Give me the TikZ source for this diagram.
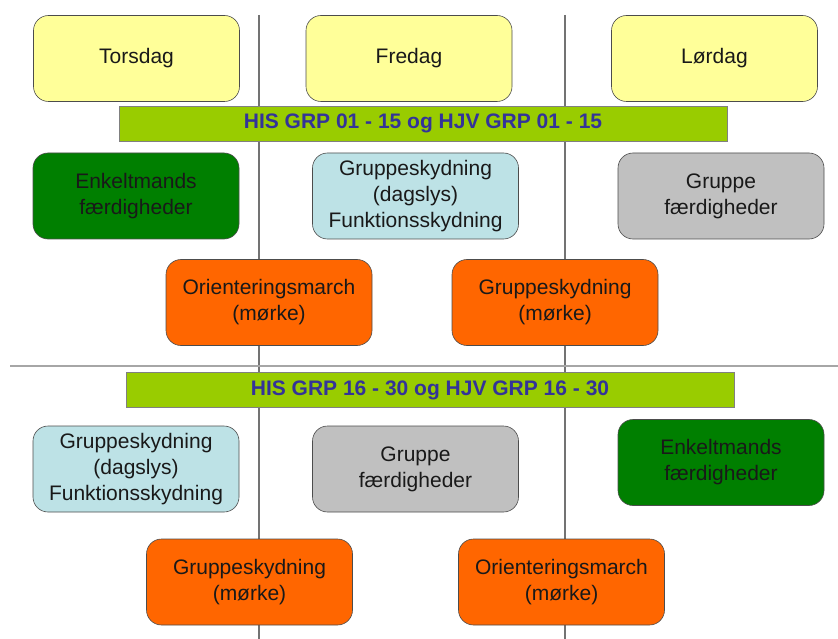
\documentclass[tikz,border=0pt]{standalone}
\usepackage{fontspec}
\setmainfont{Liberation Sans}
\usepackage{xcolor}
\usetikzlibrary{positioning}

\definecolor{dayyellow}{HTML}{FFFF99}
\definecolor{darkgreen}{HTML}{007F00}
\definecolor{lightblue}{HTML}{BDE2E6}
\definecolor{boxgrey}{HTML}{C0C0C0}
\definecolor{darkorange}{HTML}{FF6600}
\definecolor{barlime}{HTML}{99CC00}
\definecolor{barblue}{HTML}{333399}

\tikzset{
    box/.style={rectangle, rounded corners=15pt, draw=black!70, line width=0.6pt,
        minimum width=206pt, minimum height=86pt, inner sep=0pt, align=center,
        font=\fontsize{21}{26}\selectfont, text=black!90},
    day/.style={box, fill=dayyellow},
    single/.style={box, fill=darkgreen},
    daylight/.style={box, fill=lightblue},
    team/.style={box, fill=boxgrey},
    night/.style={box, fill=darkorange},
    groupbar/.style={rectangle, draw=black!50, line width=0.6pt, fill=barlime,
        minimum width=608pt, minimum height=35pt, inner sep=0pt,
        font=\fontsize{21}{26}\selectfont\bfseries, text=barblue}
}

\begin{document}
\begin{tikzpicture}[x=1pt, y=-1pt]
    \useasboundingbox (0,0) rectangle (838,639);
    % day separators
    \coordinate (sep1top) at (259,15);
    \coordinate (sep1bot) at (259,639);
    \coordinate (sep2top) at (565,15);
    \coordinate (sep2bot) at (565,639);
    \coordinate (splitl) at (10,366);
    \coordinate (splitr) at (838,366);
    \draw[black!55, line width=1.2pt] (sep1top) -- (sep1bot);
    \draw[black!55, line width=1.2pt] (sep2top) -- (sep2bot);
    \draw[black!35, line width=1.5pt] (splitl) -- (splitr);
    % days
    \node[day] (thu) at (136.5,58.5) {Torsdag};
    \node[day] (fri) at (409,58.5) {Fredag};
    \node[day] (sat) at (714.5,58.5) {Lørdag};
    % first group
    \node[groupbar] (bar1) at (423,123.5) {HIS GRP 01 - 15 og HJV GRP 01 - 15};
    \node[single] (single1) at (136,196) {Enkeltmands\\færdigheder};
    \node[daylight] (shoot1) at (415.5,196) {Gruppeskydning\\(dagslys)\\Funktionsskydning};
    \node[team] (team1) at (721,196) {Gruppe\\færdigheder};
    \node[night] (march1) at (269,302.5) {Orienteringsmarch\\(mørke)};
    \node[night] (dark1) at (555,302.5) {Gruppeskydning\\(mørke)};
    % second group
    \node[groupbar] (bar2) at (430,390) {HIS GRP 16 - 30 og HJV GRP 16 - 30};
    \node[daylight] (shoot2) at (136,469) {Gruppeskydning\\(dagslys)\\Funktionsskydning};
    \node[team] (team2) at (415.5,469) {Gruppe\\færdigheder};
    \node[single] (single2) at (721,462.5) {Enkeltmands\\færdigheder};
    \node[night] (dark2) at (249.5,582) {Gruppeskydning\\(mørke)};
    \node[night] (march2) at (561.5,582) {Orienteringsmarch\\(mørke)};
\end{tikzpicture}
\end{document}
